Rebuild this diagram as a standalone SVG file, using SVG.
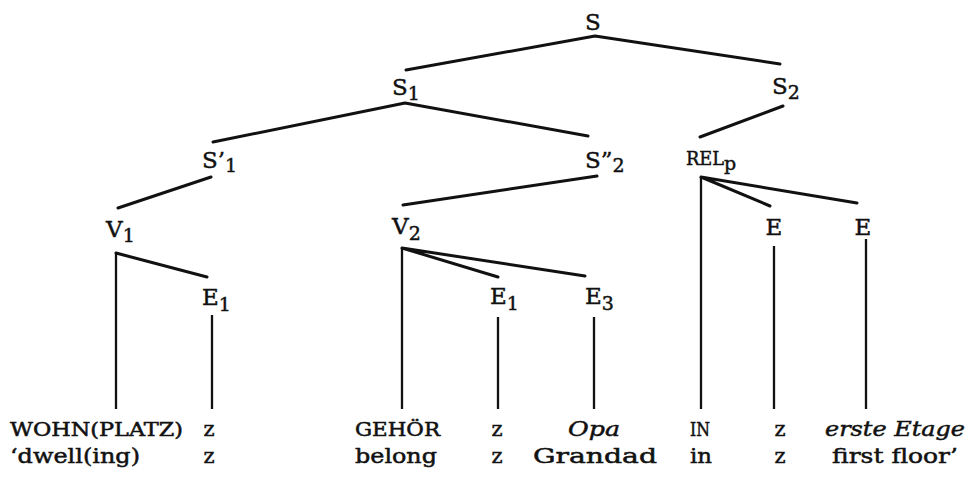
<svg xmlns="http://www.w3.org/2000/svg" width="969" height="481" viewBox="0 0 969 481">
<style>
.n{font-family:"DejaVu Serif","Liberation Serif",serif;font-size:23px;fill:#111;stroke:#111;stroke-width:0.45}
.sub{font-size:19px}
.sc{font-size:18px}
.w{font-family:"DejaVu Serif","Liberation Serif",serif;font-size:21px;fill:#111;stroke:#111;stroke-width:0.5}
.cap{font-size:18px}
.it{font-style:italic}
.e{stroke:#111;stroke-width:3;stroke-linecap:round;fill:none}
.v{stroke:#111;stroke-width:2.3;fill:none}
</style>
<rect width="969" height="481" fill="#fff"/>
<g id="connectors">
<path class="e" d="M595 36L406 70M595 36L780 64"/>
<path class="e" d="M405 103L213 142M405 103L588 136"/>
<path class="e" d="M783 106L700 137"/>
<path class="e" d="M211 177L118 208M597 176L403 205"/>
<path class="e" d="M116 253L207 277"/>
<path class="e" d="M402 248L498 277M402 248L585 276"/>
<path class="e" d="M701 177L770 206M701 177L857 203"/>
<path class="v" d="M116 253V409M212 315V409M402 248V409M498 317V409M594 317V409M701 177V409M774 246V409M866 239V409"/>
</g>
<g id="S"><text class="n" x="593" y="30" text-anchor="middle">S</text></g>
<g id="S1"><text class="n" x="392" y="95">S<tspan class="sub" dy="5">1</tspan></text></g>
<g id="S2"><text class="n" x="772" y="94">S<tspan class="sub" dy="5">2</tspan></text></g>
<g id="S1p"><text class="n" x="202" y="168">S’<tspan class="sub" dy="4">1</tspan></text></g>
<g id="S2pp"><text class="n" x="585" y="168">S”<tspan class="sub" dy="4">2</tspan></text></g>
<g id="RELp"><text class="n" x="686" y="165"><tspan class="sc" textLength="38" lengthAdjust="spacingAndGlyphs">REL</tspan><tspan class="sub" dy="5">p</tspan></text></g>
<g id="V1"><text class="n" x="106" y="237">V<tspan class="sub" dy="5">1</tspan></text></g>
<g id="V2"><text class="n" x="392" y="234">V<tspan class="sub" dy="6">2</tspan></text></g>
<g id="E1a"><text class="n" x="202" y="305">E<tspan class="sub" dy="6">1</tspan></text></g>
<g id="E1b"><text class="n" x="490" y="304">E<tspan class="sub" dy="6">1</tspan></text></g>
<g id="E3"><text class="n" x="585" y="304">E<tspan class="sub" dy="6">3</tspan></text></g>
<g id="Ea"><text class="n" x="774" y="235" text-anchor="middle">E</text></g>
<g id="Eb"><text class="n" x="863" y="235" text-anchor="middle">E</text></g>
<g id="words">
<text class="w cap" x="10" y="436" textLength="173" lengthAdjust="spacingAndGlyphs">WOHN(PLATZ)</text>
<text class="w" x="209" y="436" text-anchor="middle">z</text>
<text class="w cap" x="355" y="436" textLength="85" lengthAdjust="spacingAndGlyphs">GEHÖR</text>
<text class="w" x="497" y="436" text-anchor="middle">z</text>
<text class="w it" x="568" y="436" textLength="52" lengthAdjust="spacingAndGlyphs">Opa</text>
<text class="w cap" x="690" y="436" textLength="20" lengthAdjust="spacingAndGlyphs">IN</text>
<text class="w" x="780" y="436" text-anchor="middle">z</text>
<text class="w it" x="825" y="436" textLength="140" lengthAdjust="spacingAndGlyphs">erste Etage</text>
<text class="w" x="10" y="463" textLength="130" lengthAdjust="spacingAndGlyphs">‘dwell(ing)</text>
<text class="w" x="209" y="463" text-anchor="middle">z</text>
<text class="w" x="355" y="463" textLength="82" lengthAdjust="spacingAndGlyphs">belong</text>
<text class="w" x="497" y="463" text-anchor="middle">z</text>
<text class="w" x="533" y="463" textLength="124" lengthAdjust="spacingAndGlyphs">Grandad</text>
<text class="w" x="690" y="463" textLength="22" lengthAdjust="spacingAndGlyphs">in</text>
<text class="w" x="780" y="463" text-anchor="middle">z</text>
<text class="w" x="832" y="463" textLength="126" lengthAdjust="spacingAndGlyphs">first floor’</text>
</g>
</svg>
